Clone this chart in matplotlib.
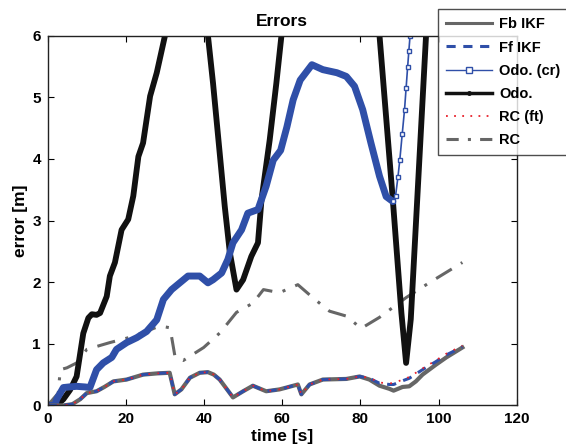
import matplotlib
matplotlib.use("Agg")
import matplotlib.pyplot as plt
from matplotlib.lines import Line2D

# ---- data ----
t_odo = [0, 2.3, 4.0, 5.7, 7.4, 9.1, 10.4, 11.3, 12.5, 13.4, 15.1, 15.9, 17.2, 18.9,
         20.6, 21.9, 23.2, 24.4, 26.2, 27.9, 30.0, 33, 36, 39, 41.0, 42.3, 44.0, 45.3,
         46.6, 48.3, 50.0, 52.1, 53.8, 54.7, 56.8, 58.5, 59.8, 66, 72, 79, 84.9, 88.3,
         90.5, 91.7, 92.9, 96.8, 100, 106.5]
y_odo = [0, 0.0, 0.1, 0.25, 0.47, 1.17, 1.42, 1.48, 1.47, 1.5, 1.77, 2.1, 2.32, 2.85,
         3.02, 3.4, 4.04, 4.26, 5.02, 5.4, 6.0, 7.5, 8.2, 7.5, 6.0, 5.23, 4.1, 3.23,
         2.48, 1.88, 2.04, 2.42, 2.64, 3.34, 4.31, 5.23, 6.0, 8, 9, 8, 6.0, 3.34,
         1.5, 0.69, 1.4, 6.0, 9.5, 15]

t_cr = [0, 1.8, 2.3, 4.0, 5.5, 7.4, 9.5, 10.8, 12.5, 14.2, 16.4, 17.6, 20.2, 22.8,
        25.3, 27.9, 29.6, 31.7, 33.8, 35.9, 38.9, 41.0, 42.3, 44.5, 46.1, 47.4, 49.6,
        51.2, 53.8, 55.9, 57.7, 59.6, 61.2, 62.8, 64.6, 67.6, 70.4, 74, 76.4, 78.5,
        80.6, 82.7, 84.9, 86.6, 88.3, 89.0, 89.6, 90.1, 90.7, 91.3, 91.7, 92.1, 92.4,
        92.7, 95, 100, 106.5]
y_cr = [0, 0, 0.1, 0.29, 0.3, 0.31, 0.3, 0.29, 0.58, 0.69, 0.78, 0.91, 1.02, 1.1,
        1.2, 1.39, 1.72, 1.88, 1.99, 2.1, 2.1, 1.99, 2.04, 2.15, 2.37, 2.64, 2.85,
        3.12, 3.18, 3.56, 3.98, 4.14, 4.52, 4.96, 5.28, 5.53, 5.45, 5.4, 5.34, 5.18,
        4.8, 4.26, 3.72, 3.39, 3.31, 3.4, 3.7, 3.99, 4.4, 4.8, 5.15, 5.5, 5.75,
        5.99, 7.5, 9.5, 12]

t_rc = [0, 2.7, 3.2, 4.9, 7.4, 10.0, 15.9, 21.9, 28.7, 31.3, 32.6, 34.7, 39.9, 44.1,
        48.3, 52.5, 55.2, 59.3, 64.0, 68.0, 72.1, 76.4, 80.2, 84.9, 91.7, 97.6, 106.1]
y_rc = [0, 0.2, 0.58, 0.61, 0.69, 0.91, 1.02, 1.12, 1.29, 1.26, 0.78, 0.73, 0.94, 1.18,
        1.51, 1.66, 1.88, 1.83, 1.96, 1.74, 1.53, 1.45, 1.25, 1.43, 1.75, 1.99, 2.32]

t_low = [0, 4, 6.3, 8.3, 10, 12.5, 14.5, 16.8, 20.2, 24.4, 28, 31.2, 32.5, 34.2, 36.4,
         38.9, 41.0, 42.5, 44.0, 46.0, 47.4, 50.0, 52.5, 54, 55.9, 59.3, 61.1, 64.0,
         64.9, 67.0, 70.4, 76.4, 79.8, 82.3, 84.9, 87.4, 88.5, 90.8, 92.5, 94.2, 95.9,
         99.3, 102, 106.1]
y_fb = [0, 0, 0.02, 0.1, 0.2, 0.23, 0.3, 0.39, 0.42, 0.5, 0.52, 0.53, 0.18, 0.26, 0.45,
        0.53, 0.54, 0.5, 0.42, 0.25, 0.13, 0.23, 0.32, 0.28, 0.23, 0.26, 0.29, 0.34,
        0.18, 0.34, 0.42, 0.43, 0.47, 0.42, 0.32, 0.27, 0.24, 0.30, 0.31, 0.39, 0.5,
        0.66, 0.78, 0.94]
y_ff = [0, 0, 0.02, 0.1, 0.2, 0.23, 0.3, 0.39, 0.42, 0.5, 0.52, 0.53, 0.18, 0.26, 0.45,
        0.53, 0.54, 0.5, 0.42, 0.25, 0.13, 0.23, 0.32, 0.28, 0.23, 0.26, 0.29, 0.34,
        0.18, 0.34, 0.42, 0.43, 0.47, 0.44, 0.36, 0.34, 0.34, 0.40, 0.44, 0.51, 0.58,
        0.71, 0.82, 0.95]
y_rcft = [0, 0, 0.02, 0.1, 0.2, 0.23, 0.3, 0.39, 0.42, 0.5, 0.52, 0.53, 0.18, 0.26, 0.45,
          0.53, 0.54, 0.5, 0.42, 0.25, 0.13, 0.23, 0.32, 0.28, 0.23, 0.26, 0.29, 0.34,
          0.18, 0.34, 0.42, 0.43, 0.47, 0.45, 0.37, 0.36, 0.36, 0.42, 0.46, 0.53, 0.60,
          0.73, 0.84, 0.97]

labels = ["Fb IKF", "Ff IKF", "Odo. (cr)", "Odo.", "RC (ft)", "RC"]
x_ticks = [0, 20, 40, 60, 80, 100, 120]
y_ticks = [0, 1, 2, 3, 4, 5, 6]

BLUE = "#2f4fa8"
GRAY = "#666666"
BLACK = "#111111"
RED = "#e8202a"

plt.rcParams['font.family'] = ['Liberation Sans', 'DejaVu Sans']
plt.rcParams['font.weight'] = 'bold'

fig = plt.figure(figsize=(5.66, 4.47), dpi=100)
ax = fig.add_axes([0.0843, 0.093, 0.8286, 0.827])

ax.plot(t_rc, y_rc, color=GRAY, lw=2.2, dashes=(6, 3.5, 1, 3.5))
ax.plot(t_odo, y_odo, color=BLACK, lw=4.2, solid_joinstyle='round')

# Odo. (cr): dense markers look like a thick band where the curve is slow,
# and a thin line with open squares where it rises steeply
split = t_cr.index(88.3)
ax.plot(t_cr[:split + 1], y_cr[:split + 1], color=BLUE, lw=5.0,
        solid_joinstyle='round', solid_capstyle='round')
ax.plot(t_cr[split:], y_cr[split:], color=BLUE, lw=1.2, marker='s',
        markersize=3.2, markerfacecolor='white', markeredgecolor=BLUE,
        markeredgewidth=1.0)

ax.plot(t_low, y_fb, color=GRAY, lw=3.0, solid_joinstyle='round')
ax.plot(t_low, y_ff, color=BLUE, lw=2.2, dashes=(3, 2.5))
ax.plot(t_low, y_rcft, color=RED, lw=1.3, dashes=(1, 4))

ax.set_xlim(0, 120)
ax.set_ylim(0, 6)
ax.set_xticks(x_ticks)
ax.set_yticks(y_ticks)
ax.tick_params(direction='in', top=True, right=True, length=4, width=0.8,
               labelsize=11, pad=5)
for lab in ax.get_xticklabels() + ax.get_yticklabels():
    lab.set_fontweight('bold')
for s in ax.spines.values():
    s.set_linewidth(1.0)
    s.set_color('#222222')

ax.set_title("Errors", fontsize=12.5, fontweight='bold', pad=7)
ax.set_xlabel("time [s]", fontsize=12.5, fontweight='bold', labelpad=2)
ax.set_ylabel("error [m]", fontsize=12.5, fontweight='bold', labelpad=3)

handles = [
    Line2D([], [], color=GRAY, lw=2.2),
    Line2D([], [], color=BLUE, lw=2.2, dashes=(3, 2.5)),
    Line2D([0, 0.5, 1], [0, 0, 0], color=BLUE, lw=1.0, marker='s', markersize=4,
           markerfacecolor='white', markeredgecolor=BLUE, markevery=[1]),
    Line2D([0, 0.5, 1], [0, 0, 0], color=BLACK, lw=2.5, marker='.', markersize=5,
           markevery=[1]),
    Line2D([], [], color=RED, lw=1.3, dashes=(1, 3.5)),
    Line2D([], [], color=GRAY, lw=2.2, dashes=(4, 3, 1, 3)),
]
leg = fig.legend(handles, labels, loc='upper left', bbox_to_anchor=(0.7735, 0.979),
                 frameon=True, fancybox=False, edgecolor='#222222', fontsize=10.5,
                 handlelength=3.2, labelspacing=0.63, borderpad=0.55,
                 handletextpad=0.45, borderaxespad=0)
leg.get_frame().set_linewidth(1.0)
for txt in leg.get_texts():
    txt.set_fontweight('bold')

fig.savefig("out.png", dpi=100)
